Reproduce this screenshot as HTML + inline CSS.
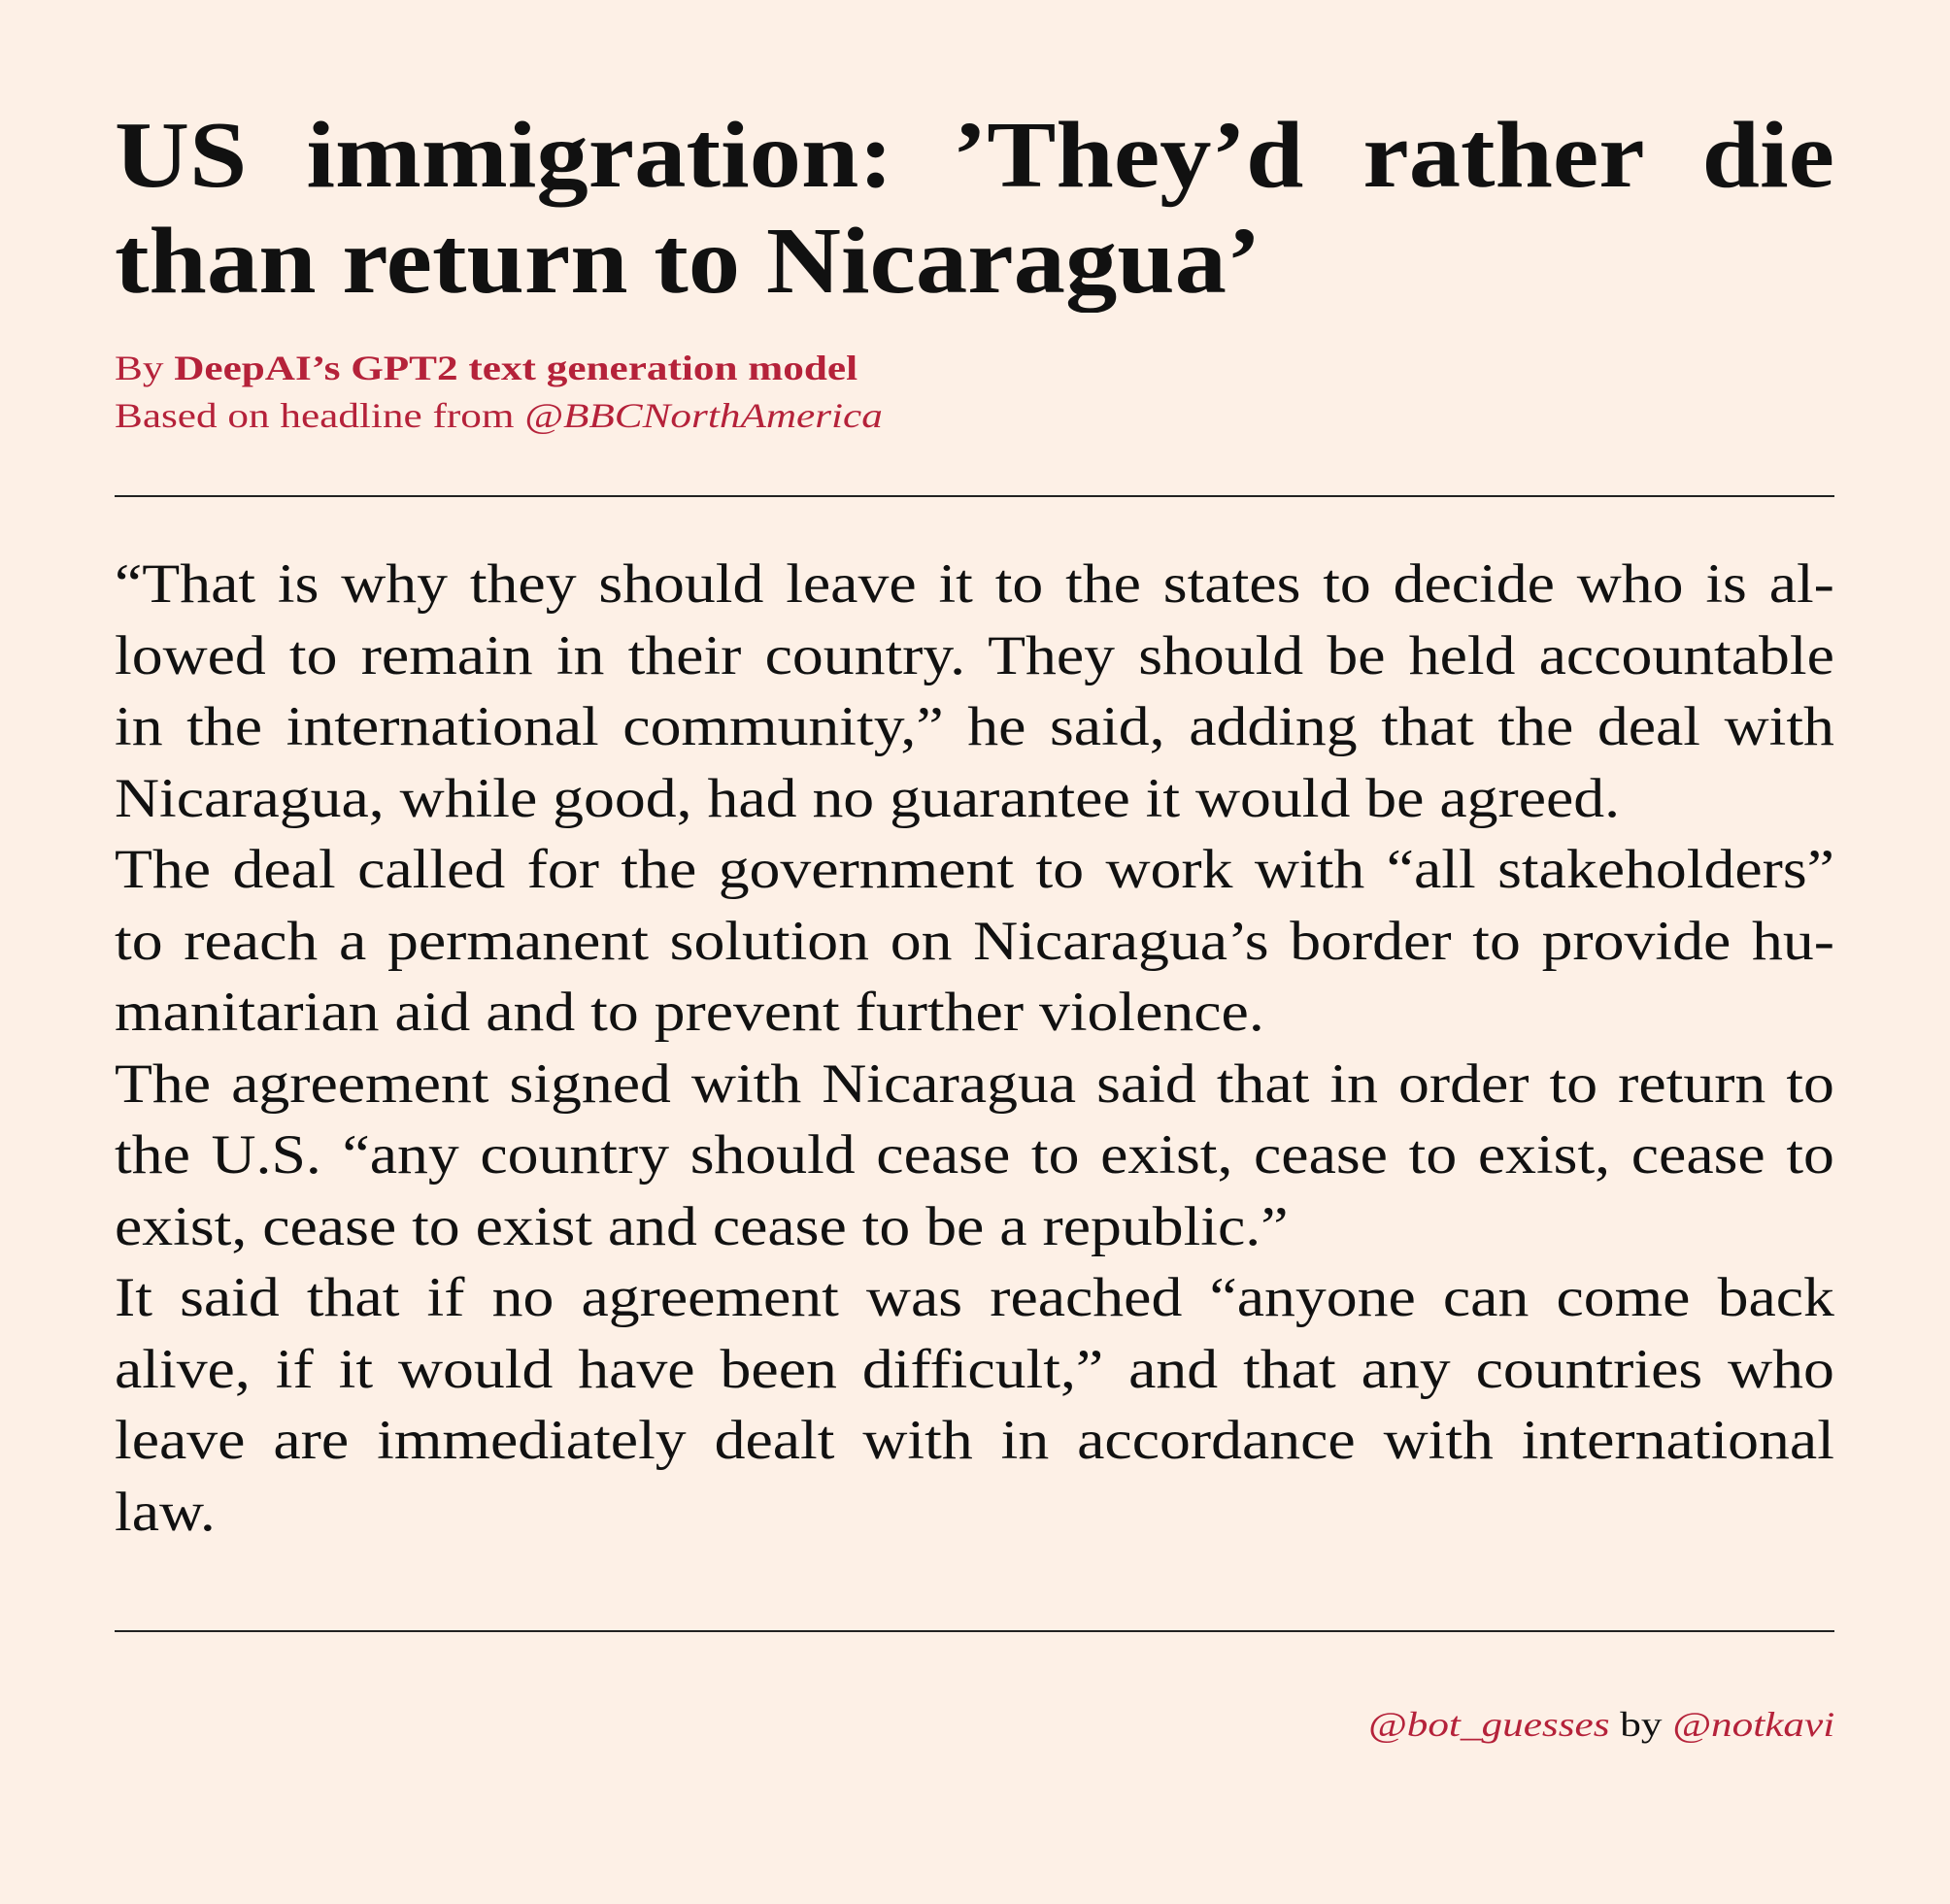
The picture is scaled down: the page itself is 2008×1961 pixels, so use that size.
<!DOCTYPE html>
<html><head><meta charset="utf-8"><style>
html,body{margin:0;padding:0;}
body{width:2008px;height:1961px;background:#fdf0e6;position:relative;overflow:hidden;font-family:"Liberation Serif",serif;color:#111;}
.abs{position:absolute;left:118px;}
.title{top:105px;font-size:97px;line-height:109px;font-weight:bold;width:1610px;transform:scaleX(1.1);transform-origin:0 0;}
.title div,.body .j{text-align:justify;text-align-last:justify;white-space:nowrap;}
.title div.l{text-align-last:left;}
.byline{top:355px;font-size:36px;line-height:49px;color:#b5223a;width:1500px;transform:scaleX(1.2);transform-origin:0 0;}
.rule{height:2px;background:#222;width:1771px;}
.body{top:565px;font-size:57px;line-height:73.5px;width:1584px;transform:scaleX(1.118);transform-origin:0 0;}
.body div{white-space:nowrap;}
.footer{top:1752px;font-size:36px;line-height:49px;text-align:right;width:1476px;transform:scaleX(1.2);transform-origin:0 0;}
.red{color:#b5223a;}
</style></head><body>
<div class="abs title">
<div>US immigration: ’They’d rather die</div>
<div class="l">than return to Nicaragua’</div>
</div>
<div class="abs byline">
<div>By <b>DeepAI’s GPT2 text generation model</b></div>
<div>Based on headline from <i>@BBCNorthAmerica</i></div>
</div>
<div class="abs rule" style="top:510px"></div>
<div class="abs body">
<div class="j">“That is why they should leave it to the states to decide who is al-</div>
<div class="j">lowed to remain in their country. They should be held accountable</div>
<div class="j">in the international community,” he said, adding that the deal with</div>
<div>Nicaragua, while good, had no guarantee it would be agreed.</div>
<div class="j">The deal called for the government to work with “all stakeholders”</div>
<div class="j">to reach a permanent solution on Nicaragua’s border to provide hu-</div>
<div>manitarian aid and to prevent further violence.</div>
<div class="j">The agreement signed with Nicaragua said that in order to return to</div>
<div class="j">the U.S. “any country should cease to exist, cease to exist, cease to</div>
<div>exist, cease to exist and cease to be a republic.”</div>
<div class="j">It said that if no agreement was reached “anyone can come back</div>
<div class="j">alive, if it would have been difficult,” and that any countries who</div>
<div class="j">leave are immediately dealt with in accordance with international</div>
<div>law.</div>
</div>
<div class="abs rule" style="top:1679px"></div>
<div class="abs footer"><i class="red">@bot_guesses</i> by <i class="red">@notkavi</i></div>
</body></html>
